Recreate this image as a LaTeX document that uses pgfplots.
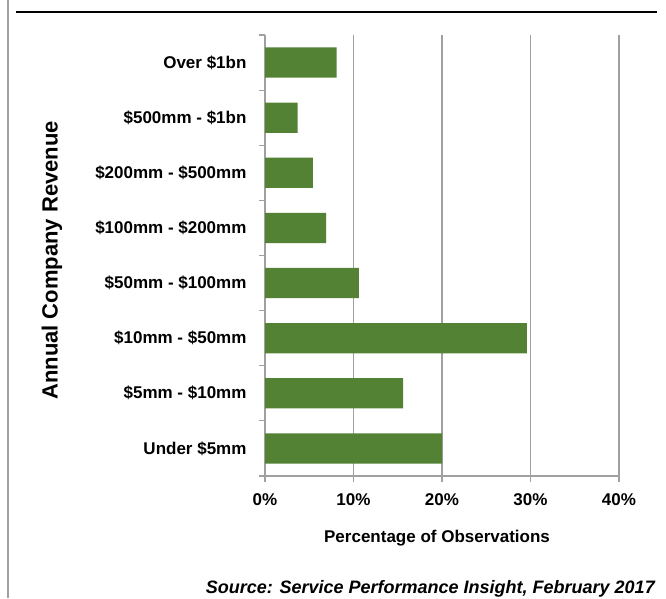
\documentclass[border=0pt]{standalone}
\usepackage{fontspec}
\setmainfont{Liberation Sans}
\usepackage{pgfplots}
\pgfplotsset{compat=1.18}
\definecolor{barg}{HTML}{548235}
\definecolor{axgray}{HTML}{A0A0A0}
\begin{document}
\begin{tikzpicture}[x=1pt,y=1pt]
\path[use as bounding box] (0,0) rectangle (666,598);
\draw[axgray, line width=1.5pt] (8,0) -- (8,598);
\draw[black, line width=2pt] (16,586) -- (657,586);
\begin{axis}[
  at={(265pt,122pt)}, anchor=south west,
  scale only axis, width=354pt, height=441pt,
  xmin=0, xmax=40, ymin=-0.5, ymax=7.5,
  axis lines*=left,
  axis line style={axgray, line width=1.2pt},
  xtick={0,10,20,30,40},
  xticklabels={0\%,10\%,20\%,30\%,40\%},
  xmajorgrids, grid style={axgray, line width=1.2pt},
  ytick={0,...,7},
  yticklabels={Under \$5mm,\$5mm - \$10mm,\$10mm - \$50mm,\$50mm - \$100mm,\$100mm - \$200mm,\$200mm - \$500mm,\$500mm - \$1bn,Over \$1bn},
  minor ytick={-0.5,0.5,...,7.5},
  y tick style={draw=none},
  minor y tick style={draw=axgray, line width=1.2pt},
  x tick style={draw=axgray, line width=1.2pt},
  tick align=outside,
  major tick length=6pt, minor tick length=6pt,
  ticklabel style={font=\bfseries\fontsize{17}{19}\selectfont},
  yticklabel style={xshift=-9pt},
  xticklabel style={yshift=-8pt},
  xlabel={Percentage of Observations},
  xlabel style={font=\bfseries\fontsize{17}{19}\selectfont, at={(axis description cs:0.486,-0.141)}, anchor=center},
  ylabel={Annual Company Revenue},
  ylabel style={font=\bfseries\fontsize{22}{24}\selectfont, at={(axis description cs:-0.602,0.489)}, anchor=center, rotate=0},
  xbar, bar width=0.55,
  clip=false,
]
\addplot[fill=barg, draw=none] coordinates {(20.0,0) (15.6,1) (29.6,2) (10.6,3) (6.9,4) (5.4,5) (3.7,6) (8.1,7)};
\end{axis}
\node[anchor=base east, font=\bfseries\itshape\fontsize{18}{20}\selectfont, inner sep=0pt] at (655,5) {Source: Service Performance Insight, February 2017};
\end{tikzpicture}
\end{document}
